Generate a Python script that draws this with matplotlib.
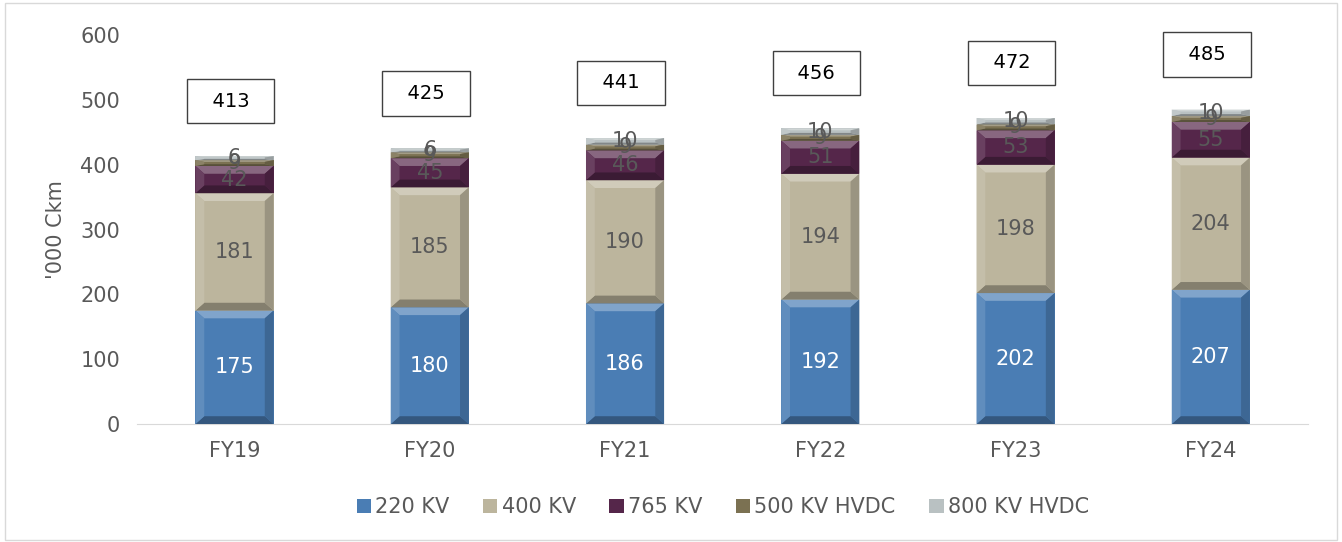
import matplotlib.pyplot as plt
from matplotlib.patches import Polygon, Rectangle
from matplotlib.colors import to_rgb
import numpy as np

years = ["FY19", "FY20", "FY21", "FY22", "FY23", "FY24"]
kv220 = [175, 180, 186, 192, 202, 207]
kv400 = [181, 185, 190, 194, 198, 204]
kv765 = [42, 45, 46, 51, 53, 55]
hvdc500 = [9, 9, 9, 9, 9, 9]
hvdc800 = [6, 6, 10, 10, 10, 10]
totals = [413, 425, 441, 456, 472, 485]

series = [
    ("220 KV", kv220, "#4a7db4", "white"),
    ("400 KV", kv400, "#bcb59d", "#595959"),
    ("765 KV", kv765, "#55264a", "#595959"),
    ("500 KV HVDC", hvdc500, "#7b7152", "#595959"),
    ("800 KV HVDC", hvdc800, "#b9c1c2", "#595959"),
]


def shade(c, f):
    r = np.array(to_rgb(c))
    if f > 0:
        r = r + (1 - r) * f
    else:
        r = r * (1 + f)
    return tuple(np.clip(r, 0, 1))


def bevel(ax, x0, x1, y0, y1, color):
    # fake the excel bevel look with four trapezoids
    bx = 0.045
    by = min(12, (y1 - y0) * 0.3)
    ax.add_patch(Polygon([(x0, y1), (x1, y1), (x1 - bx, y1 - by), (x0 + bx, y1 - by)],
                         closed=True, facecolor=shade(color, 0.3), edgecolor="none", zorder=3))
    ax.add_patch(Polygon([(x0, y0), (x1, y0), (x1 - bx, y0 + by), (x0 + bx, y0 + by)],
                         closed=True, facecolor=shade(color, -0.3), edgecolor="none", zorder=3))
    ax.add_patch(Polygon([(x0, y0), (x0, y1), (x0 + bx, y1 - by), (x0 + bx, y0 + by)],
                         closed=True, facecolor=shade(color, 0.12), edgecolor="none", zorder=3))
    ax.add_patch(Polygon([(x1, y0), (x1, y1), (x1 - bx, y1 - by), (x1 - bx, y0 + by)],
                         closed=True, facecolor=shade(color, -0.18), edgecolor="none", zorder=3))


fig = plt.figure(figsize=(13.42, 5.42), dpi=100)
ax = fig.add_axes([0.102, 0.2177, 0.873, 0.7177])
fig.patches.append(Rectangle((0.004, 0.004), 0.992, 0.99, transform=fig.transFigure,
                             fill=False, edgecolor="#d9d9d9", linewidth=1))

x = np.arange(len(years))
w = 0.4
bottom = np.zeros(len(years))
for name, vals, col, tcol in series:
    vals = np.array(vals)
    bars = ax.bar(x, vals, w, bottom=bottom, color=col, label=name, zorder=2)
    for xi, b, v in zip(x, bottom, vals):
        bevel(ax, xi - w / 2, xi + w / 2, b, b + v, col)
        ax.text(xi, b + v / 2, str(v), ha="center", va="center", color=tcol,
                fontsize=15, zorder=5)
    bottom = bottom + vals

for xi, t in zip(x, totals):
    ax.text(xi - 0.02, t + 85, f"  {t}  ", ha="center", va="center", fontsize=14, color="black",
            bbox=dict(boxstyle="square,pad=0.65", facecolor="white", edgecolor="#404040", linewidth=1),
            zorder=6)

ax.set_xlim(-0.5, len(years) - 0.5)
ax.set_ylim(0, 600)
ax.set_yticks(range(0, 601, 100))
ax.set_xticks(x)
ax.set_xticklabels(years)
ax.tick_params(axis="both", length=0, labelsize=15, colors="#595959", pad=12)
for s in ["top", "right", "left"]:
    ax.spines[s].set_visible(False)
ax.spines["bottom"].set_color("#d9d9d9")
ax.set_ylabel("'000 Ckm", fontsize=15, color="#595959", labelpad=10)

ax.legend(loc="upper center", bbox_to_anchor=(0.5, -0.14), ncol=5, frameon=False,
          fontsize=15, labelcolor="#595959", handlelength=0.7, handleheight=0.7,
          handletextpad=0.2, columnspacing=1.6)

fig.savefig("out.png", dpi=100)
